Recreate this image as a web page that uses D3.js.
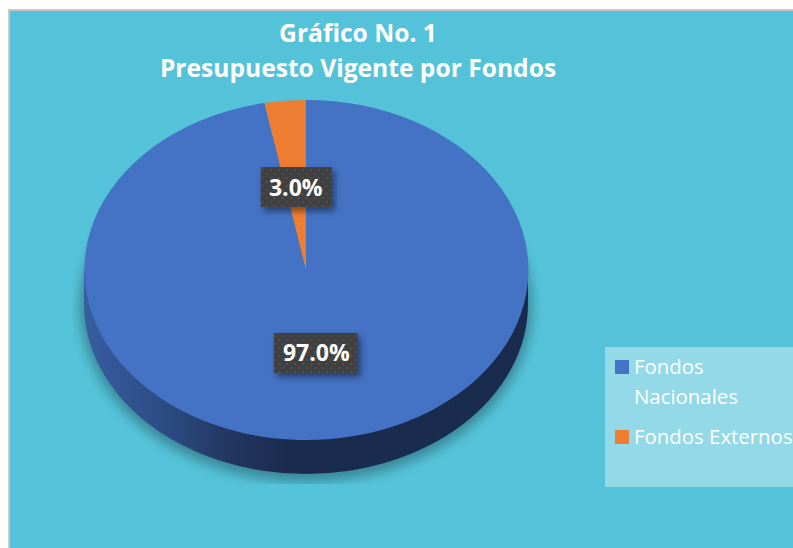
<!DOCTYPE html>
<html><head><meta charset="utf-8">
<script src="https://cdn.jsdelivr.net/npm/d3@7"></script>
<style>html,body{margin:0;padding:0;background:#fff;overflow:hidden}svg{display:block}</style>
</head><body><svg id="c" width="793" height="548"></svg>
<script>
const titleLines = ["Gráfico No. 1", "Presupuesto Vigente por Fondos"];
const categories = ["Fondos Nacionales", "Fondos Externos"];
const legendLines = [["Fondos", "Nacionales"], ["Fondos Externos"]];
const values = [97.0, 3.0];
const colors = ["#4472C4", "#ED7D31"];

const FONT = "'Open Sans','Noto Sans',sans-serif";
const svg = d3.select("#c");
const defs = svg.append("defs");
const cx = 306, cy = 270, rx = 222, ry = 170, depth = 34;

const grad = defs.append("linearGradient").attr("id", "side");
[[0, "#37609f"], [0.04, "#35599c"], [0.2, "#2b4a80"], [0.33, "#233660"], [0.46, "#1a2c4e"], [1, "#1a2c4e"]]
  .forEach(([o, c]) => grad.append("stop").attr("offset", o).attr("stop-color", c));

const pat = defs.append("pattern").attr("id", "dots").attr("patternUnits", "userSpaceOnUse")
  .attr("width", 8).attr("height", 8);
pat.append("rect").attr("width", 8).attr("height", 8).attr("fill", "#404040");
pat.append("rect").attr("x", 2).attr("y", 2).attr("width", 2).attr("height", 2).attr("fill", "#525252");
pat.append("rect").attr("x", 6).attr("y", 6).attr("width", 2).attr("height", 2).attr("fill", "#505050");

defs.append("filter").attr("id", "blur").attr("x", "-20%").attr("y", "-20%").attr("width", "140%").attr("height", "140%")
  .append("feGaussianBlur").attr("stdDeviation", 6);
const ls = defs.append("filter").attr("id", "lshadow").attr("x", "-30%").attr("y", "-30%").attr("width", "160%").attr("height", "170%");
ls.append("feDropShadow").attr("dx", 3).attr("dy", 4).attr("stdDeviation", 3).attr("flood-color", "#000").attr("flood-opacity", 0.45);
defs.append("clipPath").attr("id", "shClip").append("rect").attr("x", 72).attr("y", 100).attr("width", 469).attr("height", 384);

// frame
svg.append("rect").attr("x", 8).attr("y", 9).attr("width", 800).attr("height", 560).attr("fill", "#c8c8c8");
svg.append("rect").attr("x", 10).attr("y", 11).attr("width", 800).attr("height", 560).attr("fill", "#54C3D9");

// title
svg.append("g").selectAll("text").data(titleLines).join("text")
  .attr("x", 358).attr("y", (d, i) => 42 + i * 35)
  .attr("text-anchor", "middle").attr("fill", "#fff")
  .attr("font-family", FONT).attr("font-weight", 700).attr("font-size", 24.6)
  .text(d => d);

// shadow + extruded wall
svg.append("g").attr("clip-path", "url(#shClip)")
  .append("ellipse").attr("cx", cx).attr("cy", cy + depth + 2).attr("rx", rx + 4).attr("ry", ry + 6)
  .attr("fill", "#000").attr("opacity", 0.3).attr("filter", "url(#blur)");

const wallPath = `M${cx - rx},${cy} L${cx - rx},${cy + depth} A${rx},${ry} 0 0 0 ${cx + rx},${cy + depth} L${cx + rx},${cy} Z`;
svg.append("path").attr("d", wallPath).attr("fill", "url(#side)");

// pie top
const pie = d3.pie().sort(null).startAngle(0).endAngle(2 * Math.PI);
const arcs = pie(values);
const arc = d3.arc().innerRadius(0).outerRadius(1);
const labelArc = d3.arc().innerRadius(0).outerRadius(0.98);

svg.append("g").attr("transform", `translate(${cx},${cy}) scale(${rx},${ry})`)
  .selectAll("path").data(arcs).join("path")
  .attr("d", arc).attr("fill", (d, i) => colors[i]);

// data labels
const boxW = [84, 71];
const fmt = d3.format(".1f");
const lab = svg.append("g").selectAll("g").data(arcs).join("g")
  .attr("transform", d => {
    const [x, y] = labelArc.centroid(d);
    return `translate(${cx + x * rx},${cy + y * ry})`;
  });
lab.append("rect")
  .attr("x", (d, i) => -boxW[i] / 2 + (i ? 0.5 : -0.5)).attr("y", -20).attr("width", (d, i) => boxW[i]).attr("height", 40)
  .attr("fill", "url(#dots)").attr("filter", "url(#lshadow)");
lab.append("text").attr("text-anchor", "middle").attr("y", 8.5)
  .attr("fill", "#fff").attr("font-family", FONT).attr("font-weight", 700).attr("font-size", 23)
  .text(d => fmt(d.data) + "%");

// legend
svg.append("rect").attr("x", 605).attr("y", 347).attr("width", 188).attr("height", 140)
  .attr("fill", "#fff").attr("opacity", 0.37);
const legendY = [360, 430];
const lg = svg.append("g").selectAll("g").data(categories).join("g");
lg.append("rect").attr("x", 615).attr("y", (d, i) => legendY[i]).attr("width", 14).attr("height", 14)
  .attr("fill", (d, i) => colors[i]);
lg.each(function (d, i) {
  d3.select(this).selectAll("text").data(legendLines[i]).join("text")
    .attr("x", 634).attr("y", (t, j) => legendY[i] + 14 + j * 30)
    .attr("fill", "#fff").attr("font-family", FONT).attr("font-size", 20.4)
    .text(t => t);
});
</script></body></html>
